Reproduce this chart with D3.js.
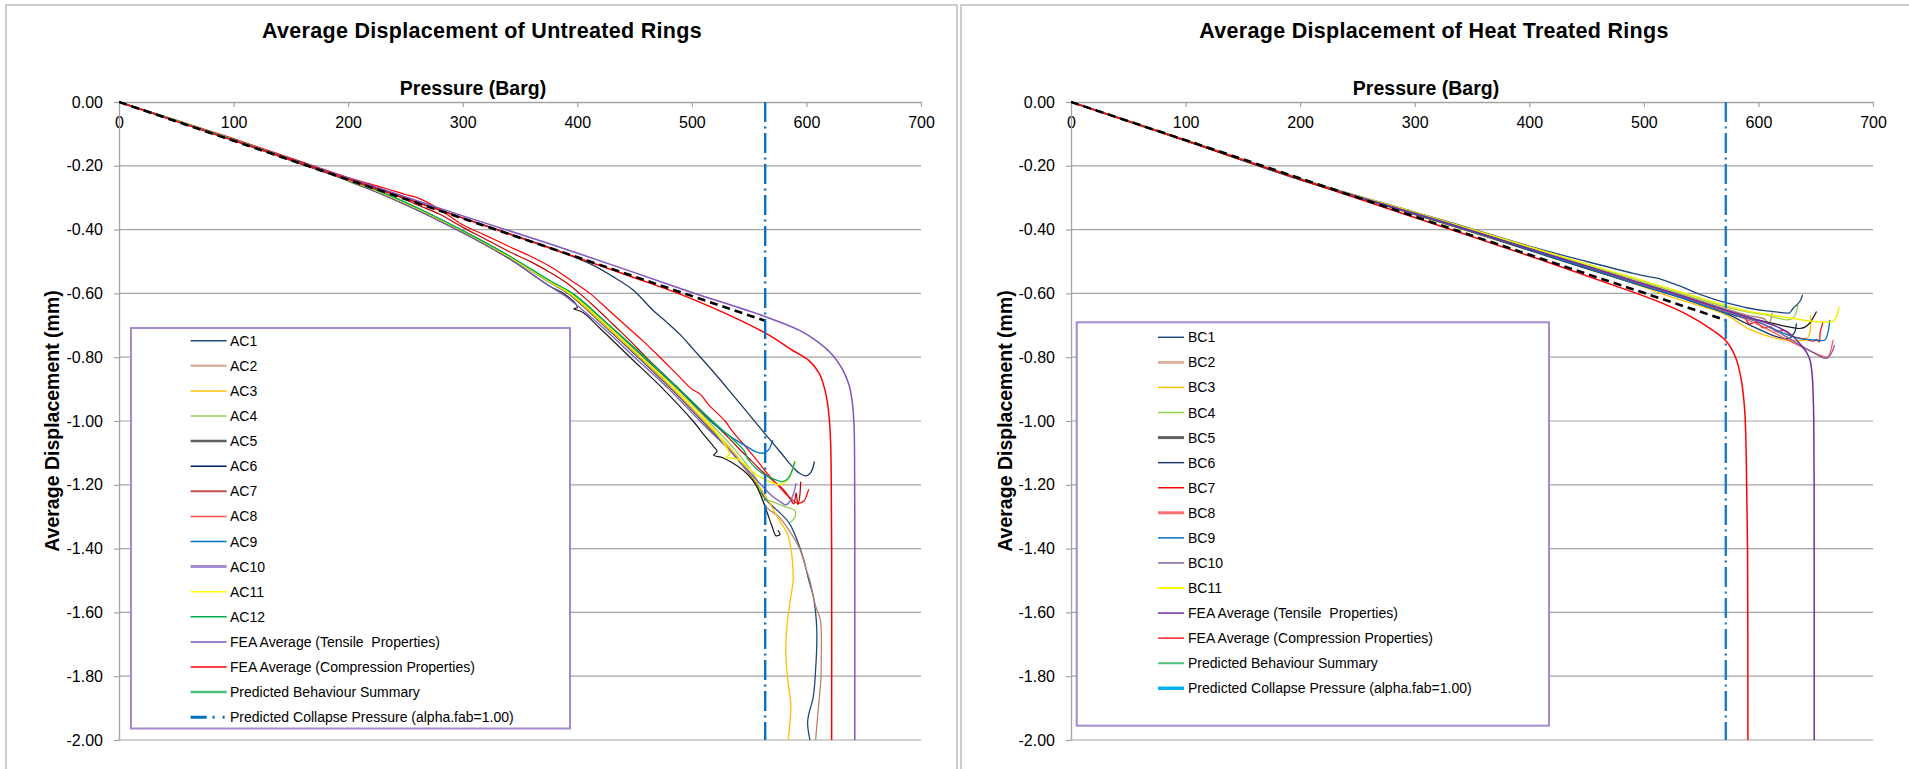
<!DOCTYPE html>
<html>
<head>
<meta charset="utf-8">
<script src="https://cdn.jsdelivr.net/npm/d3@7/dist/d3.min.js"></script>
<style>
  html, body { margin: 0; padding: 0; background: #ffffff; }
  svg { display: block; }
</style>
</head>
<body>
<svg id="chart" width="1909" height="769"></svg>
<script>
// ---------------- DATA ----------------
const xTicks = [0, 100, 200, 300, 400, 500, 600, 700];
const xTickLabels = ["0", "100", "200", "300", "400", "500", "600", "700"];
const yTicks = [0, -0.2, -0.4, -0.6, -0.8, -1.0, -1.2, -1.4, -1.6, -1.8, -2.0];
const yTickLabels = ["0.00", "-0.20", "-0.40", "-0.60", "-0.80", "-1.00", "-1.20", "-1.40", "-1.60", "-1.80", "-2.00"];

const titles = ["Average Displacement of Untreated Rings", "Average Displacement of Heat Treated Rings"];
const xTitle = "Pressure (Barg)";
const yTitle = "Average Displacement (mm)";

const leftLegendLabels = ["AC1","AC2","AC3","AC4","AC5","AC6","AC7","AC8","AC9","AC10","AC11","AC12",
  "FEA Average (Tensile  Properties)","FEA Average (Compression Properties)","Predicted Behaviour Summary","Predicted Collapse Pressure (alpha.fab=1.00)"];
const rightLegendLabels = ["BC1","BC2","BC3","BC4","BC5","BC6","BC7","BC8","BC9","BC10","BC11",
  "FEA Average (Tensile  Properties)","FEA Average (Compression Properties)","Predicted Behaviour Summary","Predicted Collapse Pressure (alpha.fab=1.00)"];

const collapseLeft = 564;
const collapseRight = 571.5;

// Untreated rings [pressure, displacement]
const AC1 = [[0,0],[50,-0.058],[100,-0.118],[150,-0.18],[200,-0.244],[250,-0.318],[300,-0.407],[340,-0.485],[377,-0.568],[392,-0.60],[423,-0.70],[453,-0.80],[482,-0.90],[509,-1.00],[535,-1.10],[555,-1.19],[565,-1.248],[576,-1.285],[585,-1.32],[594,-1.394],[598,-1.44],[602,-1.498],[606,-1.55],[608,-1.60],[609,-1.65],[609,-1.707],[608,-1.78],[606,-1.864],[602,-1.92],[601,-1.947],[603,-2.0]];
const AC2 = [[0,0],[50,-0.058],[100,-0.119],[150,-0.181],[200,-0.245],[250,-0.32],[300,-0.407],[340,-0.486],[377,-0.567],[393,-0.60],[424,-0.70],[454,-0.80],[483,-0.90],[510,-1.00],[536,-1.10],[556,-1.20],[565,-1.27],[576,-1.30],[588,-1.36],[594,-1.40],[600,-1.467],[603,-1.50],[608,-1.58],[612,-1.62],[613,-1.665],[613,-1.74],[612.6,-1.81],[610,-1.916],[608,-2.0]];
const AC3 = [[0,0],[50,-0.058],[100,-0.118],[150,-0.18],[200,-0.244],[250,-0.318],[300,-0.406],[340,-0.484],[377,-0.566],[393,-0.60],[424,-0.70],[455,-0.80],[484,-0.90],[511,-1.00],[537,-1.10],[556,-1.19],[568,-1.257],[576,-1.31],[583,-1.35],[586,-1.39],[588,-1.45],[588.4,-1.50],[586,-1.56],[583,-1.64],[582,-1.727],[584,-1.82],[586.4,-1.89],[585.5,-1.95],[584,-2.0]];
const AC4 = [[0,0],[50,-0.058],[100,-0.117],[150,-0.178],[185,-0.222],[195,-0.238],[205,-0.256],[215,-0.268],[230,-0.285],[250,-0.314],[300,-0.404],[340,-0.482],[377,-0.565],[395,-0.60],[427,-0.70],[457,-0.80],[487,-0.90],[514,-1.00],[540,-1.10],[556,-1.18],[562,-1.239],[572,-1.255],[582.6,-1.27],[589.9,-1.281],[589.9,-1.302],[586,-1.318]];
const AC5 = [[0,0],[50,-0.059],[100,-0.12],[150,-0.183],[200,-0.247],[250,-0.322],[300,-0.41],[340,-0.49],[375,-0.575],[388,-0.60],[398,-0.63],[400,-0.645],[397,-0.648],[405,-0.66],[420,-0.71],[446,-0.80],[475,-0.90],[501,-1.00],[512,-1.05],[519,-1.08],[522,-1.095],[519,-1.107],[527,-1.115],[535,-1.13],[545,-1.155],[553,-1.185],[558,-1.215],[562,-1.25],[566,-1.29],[570,-1.33],[573.5,-1.36],[577,-1.355],[575,-1.343]];
const AC6 = [[0,0],[50,-0.06],[100,-0.12],[150,-0.181],[200,-0.241],[250,-0.301],[300,-0.363],[340,-0.412],[380,-0.462],[414,-0.512],[430,-0.545],[449,-0.59],[466,-0.653],[478,-0.69],[490,-0.73],[501,-0.774],[521,-0.855],[535,-0.915],[550,-0.98],[565,-1.045],[579,-1.105],[587,-1.14],[594,-1.164],[600,-1.172],[604,-1.16],[607,-1.127]];
const AC7 = [[0,0],[50,-0.058],[100,-0.117],[150,-0.178],[200,-0.24],[230,-0.275],[260,-0.322],[280,-0.352],[300,-0.393],[320,-0.43],[340,-0.468],[360,-0.502],[377,-0.536],[390,-0.565],[402,-0.60],[417,-0.648],[432,-0.70],[446,-0.748],[460,-0.80],[475,-0.852],[489,-0.90],[503,-0.95],[517,-1.00],[530,-1.045],[542,-1.09],[552,-1.125],[562,-1.16],[572,-1.19],[580,-1.215],[586,-1.245],[589,-1.26],[591,-1.225],[592.5,-1.262],[594,-1.24],[595,-1.19]];
const AC8 = [[0,0],[50,-0.057],[100,-0.115],[150,-0.176],[200,-0.237],[230,-0.268],[250,-0.29],[262,-0.302],[280,-0.337],[300,-0.385],[320,-0.418],[340,-0.452],[360,-0.485],[377,-0.517],[395,-0.56],[411,-0.60],[426,-0.648],[442,-0.70],[457,-0.748],[472,-0.80],[486,-0.85],[500,-0.90],[507,-0.915],[515,-0.95],[529,-1.00],[536,-1.035],[548,-1.085],[559,-1.133],[566,-1.165],[573.5,-1.195],[581,-1.225],[588,-1.248],[593,-1.258],[598,-1.25],[600,-1.235],[602,-1.214]];
const AC9 = [[0,0],[50,-0.058],[100,-0.118],[150,-0.179],[200,-0.242],[250,-0.315],[300,-0.403],[340,-0.482],[377,-0.563],[395,-0.60],[427,-0.70],[458,-0.80],[488,-0.90],[516,-1.00],[535,-1.052],[547,-1.078],[555,-1.095],[562,-1.101],[567,-1.09],[570.5,-1.06]];
const AC10 = [[0,0],[50,-0.059],[100,-0.12],[150,-0.182],[200,-0.246],[250,-0.321],[300,-0.41],[340,-0.49],[377,-0.58],[390,-0.61],[420,-0.70],[450,-0.80],[480,-0.90],[507,-1.00],[535,-1.10],[558,-1.19],[570,-1.235],[578,-1.255],[582,-1.263],[586,-1.25],[589,-1.225],[591,-1.195]];
const AC11 = [[0,0],[50,-0.058],[100,-0.118],[150,-0.18],[200,-0.243],[250,-0.317],[300,-0.405],[340,-0.484],[377,-0.565],[394,-0.60],[426,-0.70],[456,-0.80],[486,-0.90],[513,-1.00],[528,-1.07],[533,-1.105],[530,-1.113],[540,-1.12],[550,-1.15],[559,-1.174],[568,-1.19],[576,-1.20],[582,-1.19],[586,-1.17],[590,-1.125]];
const AC12 = [[0,0],[50,-0.058],[100,-0.118],[150,-0.179],[200,-0.242],[250,-0.315],[300,-0.403],[340,-0.481],[377,-0.562],[396,-0.60],[428,-0.70],[459,-0.80],[489,-0.90],[518,-1.00],[538,-1.065],[546,-1.095],[549,-1.12],[555,-1.145],[562,-1.165],[570,-1.18],[579,-1.19],[584,-1.18],[587,-1.16],[590,-1.127]];
const FEA_T_L = [[0,0],[100,-0.12],[200,-0.238],[300,-0.357],[377,-0.446],[450,-0.535],[500,-0.597],[565,-0.674],[594,-0.716],[610,-0.752],[622,-0.79],[631,-0.835],[637,-0.885],[640,-0.94],[641.5,-1.01],[642,-1.1],[642.2,-1.3],[642.2,-2.0]];
const FEA_C_L = [[0,0],[100,-0.121],[200,-0.242],[300,-0.364],[377,-0.459],[450,-0.551],[500,-0.617],[565,-0.726],[588,-0.779],[602,-0.81],[611,-0.85],[616,-0.9],[619,-0.96],[620.8,-1.04],[621.6,-1.15],[622,-1.4],[622,-2.0]];
const PRED_L = [[0,0],[564,-0.686]];

// Heat treated rings
const BC1 = [[0,0],[100,-0.119],[200,-0.24],[300,-0.345],[345,-0.392],[400,-0.452],[450,-0.50],[490.7,-0.537],[505,-0.548],[512.5,-0.553],[530,-0.575],[549,-0.603],[563,-0.62],[575,-0.632],[590,-0.645],[607,-0.655],[620,-0.66],[627,-0.661],[630,-0.648],[634.6,-0.632],[637,-0.62],[638.5,-0.604]];
const BC2 = [[0,0],[100,-0.121],[200,-0.243],[300,-0.349],[345,-0.397],[400,-0.458],[450,-0.514],[490,-0.558],[534,-0.606],[571,-0.648],[590,-0.668],[605,-0.68],[609,-0.694],[611.4,-0.675],[612,-0.66]];
const BC3 = [[0,0],[100,-0.122],[200,-0.244],[300,-0.353],[345,-0.403],[400,-0.465],[450,-0.522],[490,-0.568],[523,-0.61],[550,-0.64],[571,-0.666],[592,-0.712],[605,-0.73],[621.6,-0.746],[635,-0.748],[642,-0.745],[645,-0.72],[645.5,-0.668]];
const BC4 = [[0,0],[100,-0.12],[200,-0.242],[300,-0.347],[345,-0.396],[400,-0.456],[450,-0.511],[490,-0.554],[534,-0.602],[571,-0.642],[590,-0.658],[607,-0.668],[624.5,-0.683],[629,-0.68],[631.8,-0.67],[634.6,-0.636]];
const BC5 = [[0,0],[100,-0.121],[200,-0.243],[300,-0.35],[345,-0.399],[400,-0.46],[450,-0.516],[490,-0.561],[534,-0.61],[571,-0.655],[590,-0.675],[612.8,-0.694],[625,-0.704],[636,-0.71],[641,-0.705],[645,-0.692],[648,-0.675],[650.7,-0.657]];
const BC6 = [[0,0],[100,-0.121],[200,-0.244],[300,-0.352],[345,-0.402],[400,-0.465],[450,-0.522],[490,-0.567],[534,-0.616],[571,-0.662],[590,-0.695],[605,-0.72],[615,-0.735],[622,-0.741],[627.4,-0.741],[630,-0.73],[631.8,-0.72],[633.2,-0.694]];
const BC7 = [[0,0],[100,-0.121],[200,-0.243],[300,-0.35],[345,-0.40],[400,-0.461],[450,-0.517],[490,-0.562],[534,-0.611],[571,-0.655],[580,-0.67],[588,-0.678],[592,-0.695],[598,-0.69],[604,-0.708],[610,-0.704],[616,-0.72],[622,-0.716],[630,-0.735],[640,-0.742],[648,-0.75],[651,-0.745],[653,-0.752],[654,-0.72],[655.5,-0.70],[656.5,-0.689]];
const BC8 = [[0,0],[100,-0.121],[200,-0.243],[300,-0.35],[345,-0.40],[400,-0.462],[450,-0.518],[490,-0.563],[534,-0.612],[571,-0.657],[600,-0.698],[625,-0.745],[645,-0.78],[655,-0.795],[660.8,-0.799],[663,-0.78],[665.2,-0.746]];
const BC9 = [[0,0],[100,-0.121],[200,-0.243],[300,-0.351],[345,-0.401],[400,-0.463],[450,-0.52],[490,-0.566],[534,-0.615],[571,-0.66],[600,-0.69],[620,-0.722],[636,-0.742],[650,-0.746],[658,-0.746],[660.8,-0.72],[662.3,-0.683]];
const BC10 = [[0,0],[100,-0.12],[200,-0.242],[300,-0.349],[345,-0.398],[400,-0.459],[450,-0.515],[490,-0.56],[534,-0.609],[571,-0.654],[600,-0.69],[620,-0.727],[640,-0.77],[650,-0.79],[656.5,-0.802],[660,-0.803],[663,-0.792],[665.2,-0.775],[666.5,-0.762]];
const BC11 = [[0,0],[100,-0.119],[200,-0.241],[300,-0.346],[345,-0.394],[400,-0.454],[450,-0.508],[490,-0.55],[534,-0.598],[571,-0.638],[590,-0.655],[620,-0.673],[650.7,-0.689],[660,-0.69],[665.2,-0.688],[668.2,-0.673],[670.4,-0.642]];
const FEA_T_R = [[0,0],[100,-0.12],[200,-0.242],[300,-0.349],[345,-0.398],[400,-0.46],[450,-0.515],[490,-0.56],[534,-0.609],[571,-0.652],[600,-0.684],[616,-0.704],[628,-0.728],[636,-0.757],[642,-0.785],[645,-0.809],[647,-0.86],[647.7,-0.913],[648.3,-1.0],[648.6,-1.2],[648.7,-2.0]];
const FEA_C_R = [[0,0],[100,-0.121],[200,-0.242],[300,-0.362],[412,-0.497],[485,-0.589],[510,-0.622],[537,-0.665],[560,-0.715],[572,-0.75],[580,-0.80],[585,-0.87],[588,-0.966],[589.4,-1.12],[590.5,-1.4],[590.8,-2.0]];
const PRED_R = [[0,0],[571.5,-0.684]];

// ---------------- STYLE / LAYOUT ----------------
const FONT = "'Liberation Sans', Arial, Helvetica, sans-serif";
const svg = d3.select("#chart");
svg.append("rect").attr("x",0).attr("y",0).attr("width",1909).attr("height",769).attr("fill","#ffffff");

const panels = [
  {
    frameX: 6, frameW: 951, plot: [119, 921], titleX: 482, xTitleX: 473, yTitleX: 59,
    title: titles[0], collapse: collapseLeft, collapseColor: "#0A70C4",
    series: [
      {d: AC1, c: "#1F497D", w: 1.3}, {d: AC2, c: "#B8866B", w: 1.3}, {d: AC3, c: "#FFC000", w: 1.3},
      {d: AC4, c: "#92D050", w: 1.3}, {d: AC5, c: "#1A1A1A", w: 1.2}, {d: AC6, c: "#203864", w: 1.3},
      {d: AC7, c: "#C00000", w: 1.2}, {d: AC8, c: "#FF0000", w: 1.2}, {d: AC9, c: "#0070C0", w: 1.3},
      {d: AC10, c: "#7F5FBF", w: 1.3}, {d: AC11, c: "#F2F200", w: 1.5}, {d: AC12, c: "#00B050", w: 1.3},
      {d: FEA_T_L, c: "#8055C0", w: 1.5}, {d: FEA_C_L, c: "#FF0000", w: 1.5}
    ],
    pred: PRED_L,
    legend: {x: 131, y: 328, w: 439, h: 400.5, sw: [190.6, 226.6], tx: 230, y0: 340.7, step: 25.1},
    legendItems: leftLegendLabels.map((l, i) => ({label: l, style: [
      ["#1F497D",1.5],["#D9B3A0",2.5],["#FFC000",1.5],["#92D050",1.5],["#606060",2.5],["#002060",1.5],
      ["#C0504D",2],["#FF5050",1.5],["#0070C0",1.5],["#A58AD0",3],["#FFFF00",1.5],["#00B050",1.5],
      ["#9F7FD0",2],["#FF0000",1.5],["#4CC07F",2.5],["#0070C0",3,"16,6,2,8,2,20"]][i]}))
  },
  {
    frameX: 961, frameW: 960, plot: [1071, 1873], titleX: 1434, xTitleX: 1426, yTitleX: 1012,
    title: titles[1], collapse: collapseRight, collapseColor: "#1C7ACD",
    series: [
      {d: BC1, c: "#1F497D", w: 1.3}, {d: BC2, c: "#B8866B", w: 1.3}, {d: BC3, c: "#FFC000", w: 1.3},
      {d: BC4, c: "#92D050", w: 1.3}, {d: BC5, c: "#1A1A1A", w: 1.2}, {d: BC6, c: "#203864", w: 1.3},
      {d: BC7, c: "#FF0000", w: 1.2}, {d: BC8, c: "#FF5050", w: 1.2}, {d: BC9, c: "#0070C0", w: 1.3},
      {d: BC10, c: "#8064A2", w: 1.3}, {d: BC11, c: "#F2F200", w: 1.5},
      {d: FEA_T_R, c: "#7030A0", w: 1.5}, {d: FEA_C_R, c: "#FF0000", w: 1.5}
    ],
    pred: PRED_R,
    legend: {x: 1076.7, y: 322.3, w: 472.3, h: 403.4, sw: [1158, 1184], tx: 1188, y0: 337.3, step: 25.07},
    legendItems: rightLegendLabels.map((l, i) => ({label: l, style: [
      ["#1F497D",1.5],["#D9B3A0",3],["#FFC000",1.5],["#92D050",1.5],["#606060",3],["#1F3864",1.5],
      ["#FF0000",1.5],["#FF7070",3],["#0070C0",1.5],["#8064A2",1.5],["#FFFF00",2],
      ["#7030A0",1.5],["#FF2020",1.5],["#4CC07F",2],["#00B0F0",3.5]][i]}))
  }
];

const Y0 = 102, Y1 = 740;
const GRID = "#A3A3A3";

panels.forEach((p, pi) => {
  const g = svg.append("g");
  // frame
  g.append("rect").attr("x", p.frameX).attr("y", 5).attr("width", p.frameW).attr("height", 790)
    .attr("fill", "none").attr("stroke", "#BDBDBD").attr("stroke-width", 1.5);

  const x = d3.scaleLinear().domain([0, 700]).range(p.plot);
  const y = d3.scaleLinear().domain([0, -2]).range([Y0, Y1]);

  // gridlines
  g.append("g").selectAll("line").data(yTicks.filter(t => t !== 0)).join("line")
    .attr("x1", x(0)).attr("x2", x(700)).attr("y1", d => y(d)).attr("y2", d => y(d))
    .attr("stroke", GRID).attr("stroke-width", 1.2);

  // axes
  const xAxis = d3.axisBottom(x).tickValues(xTicks).tickFormat((d, i) => xTickLabels[i])
    .tickSize(5).tickSizeOuter(0).tickPadding(10);
  const gx = g.append("g").attr("transform", `translate(0,${Y0})`).call(xAxis);
  const yAxis = d3.axisLeft(y).tickValues(yTicks).tickFormat((d, i) => yTickLabels[i])
    .tickSize(5).tickSizeOuter(0).tickPadding(11);
  const gy = g.append("g").attr("transform", `translate(${p.plot[0]},0)`).call(yAxis);
  [gx, gy].forEach(a => {
    a.select(".domain").attr("stroke", GRID).attr("stroke-width", 1.3);
    a.selectAll(".tick line").attr("stroke", GRID).attr("stroke-width", 1.2);
    a.selectAll(".tick text").attr("fill", "#000").style("font-family", FONT).style("font-size", "16px");
  });

  // clip
  const clipId = "clip" + pi;
  svg.append("clipPath").attr("id", clipId).append("rect")
    .attr("x", p.plot[0]).attr("y", Y0 - 2).attr("width", p.plot[1] - p.plot[0] + 2).attr("height", Y1 - Y0 + 3);
  const plotG = g.append("g").attr("clip-path", `url(#${clipId})`);

  const line = d3.line().x(d => x(d[0])).y(d => y(d[1])).curve(d3.curveCatmullRom.alpha(0.5));
  plotG.selectAll("path.s").data(p.series).join("path").attr("class", "s")
    .attr("d", s => line(s.d)).attr("fill", "none").attr("stroke", s => s.c)
    .attr("stroke-width", s => s.w).attr("stroke-linejoin", "round");

  // predicted behaviour (dashed black)
  const straight = d3.line().x(d => x(d[0])).y(d => y(d[1]));
  plotG.append("path").attr("d", straight(p.pred)).attr("fill", "none").attr("stroke", "#000")
    .attr("stroke-width", 2.6).attr("stroke-dasharray", "8,5");

  // predicted collapse pressure
  plotG.append("line").attr("x1", x(p.collapse)).attr("x2", x(p.collapse)).attr("y1", y(0)).attr("y2", y(-2))
    .attr("stroke", p.collapseColor).attr("stroke-width", 2.4).attr("stroke-dasharray", "20,4.5,2,4.5");

  // titles
  g.append("text").attr("x", p.titleX).attr("y", 38).attr("text-anchor", "middle")
    .style("font-family", FONT).style("font-size", "21.5px").style("font-weight", "bold")
    .style("letter-spacing", "0.3px").text(p.title);
  g.append("text").attr("x", p.xTitleX).attr("y", 95).attr("text-anchor", "middle")
    .style("font-family", FONT).style("font-size", "19.5px").style("font-weight", "bold").text(xTitle);
  g.append("text").attr("transform", `translate(${p.yTitleX},${(Y0 + Y1) / 2}) rotate(-90)`)
    .attr("text-anchor", "middle")
    .style("font-family", FONT).style("font-size", "19.5px").style("font-weight", "bold").text(yTitle);

  // legend
  const L = p.legend;
  const lg = g.append("g");
  lg.append("rect").attr("x", L.x).attr("y", L.y).attr("width", L.w).attr("height", L.h)
    .attr("fill", "#ffffff").attr("stroke", "#A58AD0").attr("stroke-width", 2);
  p.legendItems.forEach((it, i) => {
    const yy = L.y0 + i * L.step;
    const st = it.style;
    const ln = lg.append("line").attr("x1", L.sw[0]).attr("x2", L.sw[1]).attr("y1", yy).attr("y2", yy)
      .attr("stroke", st[0]).attr("stroke-width", st[1]);
    if (st[2]) ln.attr("stroke-dasharray", st[2]);
    lg.append("text").attr("x", L.tx).attr("y", yy + 5)
      .style("font-family", FONT).style("font-size", "14px").style("white-space", "pre")
      .attr("fill", "#000").text(it.label);
  });
});
</script>
</body>
</html>
